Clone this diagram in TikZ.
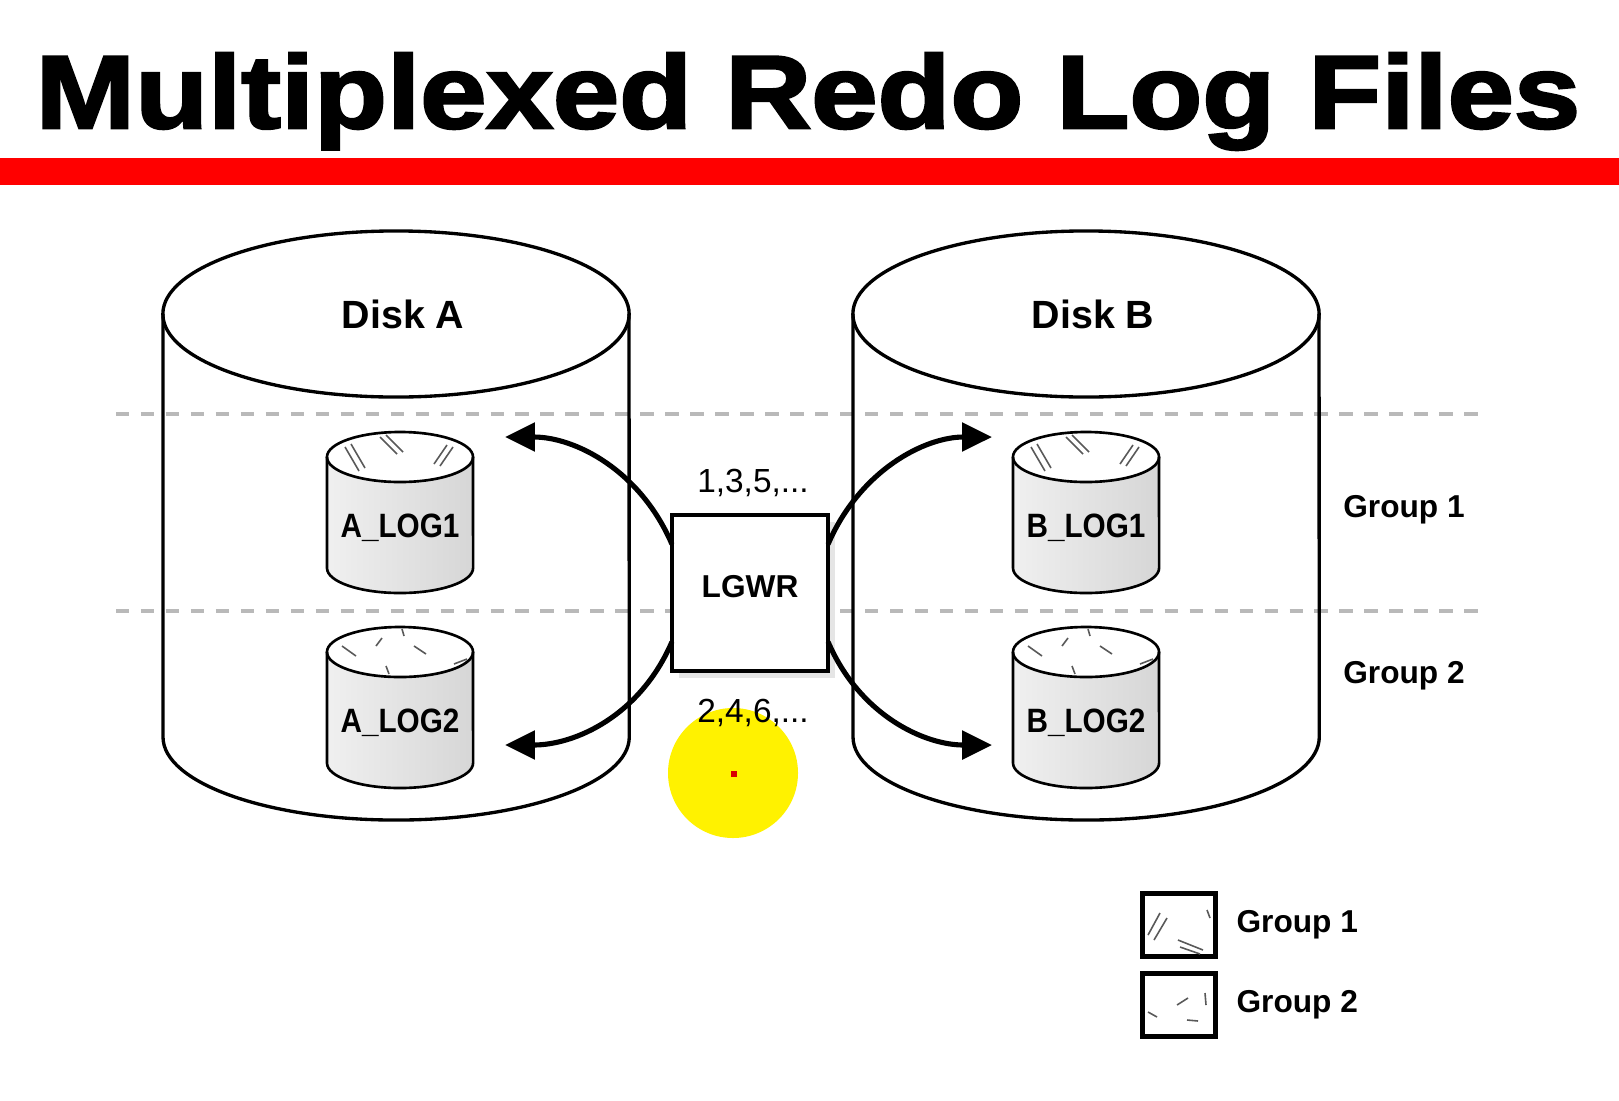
\documentclass[tikz,border=0pt]{standalone}
\usepackage{fontspec}
\setmainfont{Liberation Sans}
\newfontfamily\titlefont{Liberation Sans}[FakeStretch=1.15,BoldFeatures={FakeBold=2.5}]
\newfontfamily\logfont{Liberation Sans}[FakeStretch=0.88]
\usetikzlibrary{arrows.meta,shadows,positioning}

\begin{document}
\begin{tikzpicture}[x=0.01cm,y=-0.01cm]
\tikzstyle{title} = [font=\titlefont\bfseries\fontsize{29.5}{32}\selectfont, anchor=base, inner sep=0pt]
\tikzstyle{disk} = [draw=black, line width=0.95pt]
\tikzstyle{disklabel} = [font=\bfseries\fontsize{11.2}{13}\selectfont, anchor=base]
\tikzstyle{logfile} = [draw=black, line width=0.75pt]
\tikzstyle{loglabel} = [font=\logfont\bfseries\fontsize{9.6}{11}\selectfont]
\tikzstyle{hatch} = [draw=black!65, line width=0.45pt]
\tikzstyle{group} = [draw=gray!55, line width=1pt, dash pattern=on 3.8pt off 3.3pt]
\tikzstyle{process} = [rectangle, draw=black, line width=1.2pt, fill=white,
minimum width=1.56cm, minimum height=1.56cm, outer sep=0pt, text depth=4pt,
font=\bfseries\fontsize{9}{11}\selectfont,
drop shadow={opacity=0.2, shadow xshift=2pt, shadow yshift=-2pt}]
\tikzstyle{line} = [draw, line width=1.45pt, -{Triangle[length=8.5pt,width=8pt]}]
\tikzstyle{seq} = [font=\fontsize{9.5}{11}\selectfont]
\tikzstyle{grouplabel} = [font=\bfseries\fontsize{9}{11}\selectfont]
\tikzstyle{key} = [rectangle, draw=black, line width=1.5pt, minimum width=0.73cm, minimum height=0.63cm]

\fill[white] (0,0) rectangle (1619,1100);
\useasboundingbox (0,0) rectangle (1619,1100);

% title
\node[title] (title) at (808,128) {Multiplexed Redo Log Files};
\fill[red] (0,158) rectangle (1619,185);

% groups
\foreach \y in {414,611}
  \draw[group] (116,\y) -- (1482,\y);

% disks
\foreach \cx/\nm/\lab in {396/diska/Disk A, 1086/diskb/Disk B}{
  \draw[disk] (\cx,314) ellipse [x radius=2.33cm, y radius=0.83cm];
  \draw[disk] (\cx-233,314) -- (\cx-233,737)
    arc[start angle=180, end angle=360, x radius=2.33cm, y radius=0.83cm] -- (\cx+233,314);
  \node[disklabel] (\nm) at (\cx+7,328) {\lab};
}

% writer
\node[process] (lgwr) at (750,593) {LGWR};
\node[seq] (odd) at (753,483) {1,3,5,...};

\coordinate (a1tip) at (505,437);
\coordinate (a2tip) at (505,745);
\coordinate (b1tip) at (992,437);
\coordinate (b2tip) at (992,745);
\path[line] (lgwr.148) .. controls (640,470) and (575,437) .. (a1tip);
\path[line] (lgwr.212) .. controls (640,716) and (575,745) .. (a2tip);
\path[line] (lgwr.32) .. controls (860,470) and (925,437) .. (b1tip);
\path[line] (lgwr.-32) .. controls (860,716) and (925,745) .. (b2tip);

% log files
\foreach \cx/\ty/\lab/\nm in {400/457/A\_LOG1/alog1, 400/652/A\_LOG2/alog2,
  1086/457/B\_LOG1/blog1, 1086/652/B\_LOG2/blog2}{
  \shade[left color=gray!12, middle color=gray!3, right color=gray!32]
    (\cx-73,\ty) -- (\cx-73,\ty+111)
    arc[start angle=180, end angle=360, x radius=0.73cm, y radius=0.25cm] -- (\cx+73,\ty)
    arc[start angle=360, end angle=180, x radius=0.73cm, y radius=0.25cm] -- cycle;
  \draw[logfile, fill=white] (\cx,\ty) ellipse [x radius=0.73cm, y radius=0.25cm];
  \draw[logfile] (\cx-73,\ty) -- (\cx-73,\ty+111)
    arc[start angle=180, end angle=360, x radius=0.73cm, y radius=0.25cm] -- (\cx+73,\ty);
  \node[loglabel] (\nm) at (\cx,\ty+71) {\lab};
}
% marks on the tops
\foreach \cx in {400,1086}{
  \begin{scope}[shift={(\cx,457)}]
    \draw[hatch] (-55,-10) -- (-41,14) (-49,-13) -- (-35,11)
      (-20,-20) -- (-3,-3) (-14,-22) -- (3,-5)
      (47,-12) -- (34,7) (53,-10) -- (40,9);
  \end{scope}
  \begin{scope}[shift={(\cx,652)}]
    \draw[hatch] (-58,-6) -- (-44,4) (-24,-6) -- (-18,-14) (2,-23) -- (4,-16)
      (14,-6) -- (26,2) (-14,14) -- (-11,22) (54,12) -- (67,7);
  \end{scope}
}

% pointer
\fill[yellow] (733,773) circle[radius=65];
\fill[red!85!black] (731,771) rectangle (737,777);
\node[seq] (even) at (753,713) {2,4,6,...};

\node[grouplabel] (g1) at (1404,510) {Group 1};
\node[grouplabel] (g2) at (1404,676) {Group 2};

% legend
\node[key] (key1) at (1179,925) {};
\node[key] (key2) at (1179,1005) {};
\draw[hatch] (1148,935) -- (1160,913) (1154,940) -- (1167,918)
  (1178,940) -- (1203,950) (1180,947) -- (1200,954) (1207,910) -- (1210,918);
\draw[hatch] (1148,1012) -- (1157,1017) (1177,1005) -- (1188,998)
  (1205,993) -- (1206,1005) (1187,1020) -- (1198,1021);
\node[grouplabel, right=0.06cm of key1] (key1text) {Group 1};
\node[grouplabel, right=0.06cm of key2] (key2text) {Group 2};
\end{tikzpicture}
\end{document}
